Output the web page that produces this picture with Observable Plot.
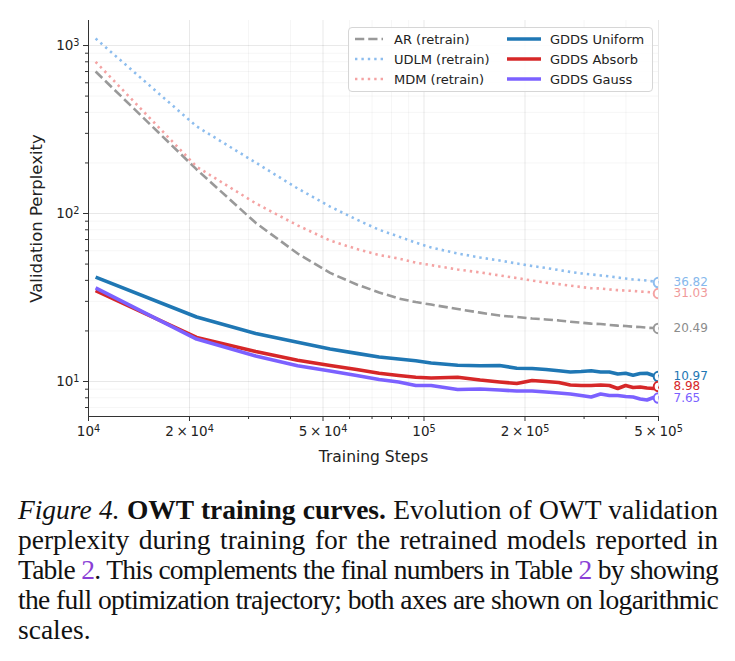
<!DOCTYPE html>
<html><head><meta charset="utf-8">
<script src="https://cdn.jsdelivr.net/npm/d3@7"></script>
<script src="https://cdn.jsdelivr.net/npm/@observablehq/plot@0.6"></script>
<style>
body{margin:0;background:#fff;}
#wrap{position:relative;width:735px;}
#legend{position:absolute;left:348px;top:27px;width:305px;height:65px;box-sizing:border-box;border:1px solid #d6d6d6;border-radius:4px;background:rgba(255,255,255,0.85);font-family:"DejaVu Sans";font-size:13px;color:#222;}
.item{position:absolute;height:20px;display:flex;align-items:center;white-space:nowrap;}
#caption{font-family:"Liberation Serif";font-size:27.5px;line-height:30px;width:700px;margin:25px 0 0 18px;color:#111;}
#caption .ln{text-align:justify;text-align-last:justify;white-space:nowrap;}
#caption .ln.last{text-align-last:left;}
.ref{color:#8a3fd6}
</style></head><body>
<div id="wrap"><div id="chart"></div><div id="legend"></div></div>
<div id="caption">
<div class="ln"><span class="m"><i>Figure 4.</i> <b>OWT training curves.</b> Evolution of OWT validation</span></div>
<div class="ln"><span class="m">perplexity during training for the retrained models reported in</span></div>
<div class="ln"><span class="m">Table&nbsp;<span class="ref">2</span>. This complements the final numbers in Table&nbsp;<span class="ref">2</span> by showing</span></div>
<div class="ln"><span class="m">the full optimization trajectory; both axes are shown on logarithmic</span></div>
<div class="ln last"><span class="m">scales.</span></div>
</div>
<script>
// ---- data ----
const steps = [10500, 21000, 31500, 42000, 52500, 63000, 73500, 84000, 94500, 105000, 126000, 147000, 168000, 189000, 210000, 231000, 252000, 273000, 294000, 315000, 336000, 357000, 378000, 399000, 420000, 441000, 462000, 483000, 500000];
const arRetrain   = [700, 183, 88, 57.8, 44.3, 37.8, 33.9, 31.2, 29.7, 28.7, 27.0, 25.7, 24.7, 24.2, 23.7, 23.4, 23.1, 22.7, 22.4, 22.1, 22.0, 21.7, 21.5, 21.4, 21.2, 21.1, 20.9, 20.8, 20.7];
const udlmRetrain = [1100, 330, 201, 141, 110, 92, 80, 73, 67, 62.8, 57.8, 54.7, 52.5, 50.4, 48.7, 47.4, 46.1, 44.9, 44.0, 43.4, 42.8, 42.2, 41.6, 41.0, 40.5, 40.2, 39.9, 39.4, 38.8];
const mdmRetrain  = [800, 190, 115, 85, 69, 61.5, 56.6, 54, 51, 49.3, 46.4, 44.6, 42.8, 41.3, 39.9, 38.8, 38.0, 37.2, 36.5, 35.9, 35.8, 35.3, 35.0, 34.8, 34.6, 34.3, 34.1, 33.8, 33.4];
const gddsUniform = [41.8, 24.2, 19.3, 17.1, 15.6, 14.7, 14.0, 13.6, 13.3, 12.9, 12.5, 12.4, 12.45, 12.0, 11.95, 11.8, 11.6, 11.4, 11.47, 11.6, 11.4, 11.4, 11.08, 11.2, 10.9, 11.15, 11.2, 10.85, 10.7];
const gddsAbsorb  = [34.8, 18.3, 15.1, 13.4, 12.45, 11.8, 11.2, 10.85, 10.6, 10.5, 10.6, 10.2, 9.93, 9.73, 10.14, 10.0, 9.86, 9.53, 9.47, 9.47, 9.53, 9.47, 9.08, 9.47, 9.21, 9.27, 9.15, 9.08, 9.34];
const gddsGauss   = [36.1, 17.9, 14.2, 12.4, 11.55, 10.85, 10.28, 9.93, 9.47, 9.47, 8.96, 9.02, 8.9, 8.78, 8.78, 8.66, 8.54, 8.42, 8.25, 8.08, 8.42, 8.25, 8.25, 8.14, 8.08, 7.87, 7.76, 8.03, 7.97];
const seriesNames = ["AR (retrain)", "UDLM (retrain)", "MDM (retrain)", "GDDS Uniform", "GDDS Absorb", "GDDS Gauss"];
const finalLabels = ["20.49", "36.82", "31.03", "10.97", "8.98", "7.65"];
const xMajorTicks = [1e4, 2e4, 5e4, 1e5, 2e5, 5e5];
const xTickLabels = ["10^4", "2×10^4", "5×10^4", "10^5", "2×10^5", "5×10^5"];
const xMinorTicks = [3e4, 4e4, 6e4, 7e4, 8e4, 9e4, 3e5, 4e5];
const yMajorTicks = [10, 100, 1000];
const yTickLabels = ["10^1", "10^2", "10^3"];
const yMinorTicks = [7, 8, 9, 20, 30, 40, 50, 60, 70, 80, 90, 200, 300, 400, 500, 600, 700, 800, 900];

// ---- styles ----
const seriesValues = [arRetrain, udlmRetrain, mdmRetrain, gddsUniform, gddsAbsorb, gddsGauss];
const colors = ["#999999", "#8dbdee", "#f4a3a3", "#1f77b4", "#d62728", "#7b61ff"];
const textColors = ["#8c8c8c", "#86b8ec", "#f09a9a", "#1f77b4", "#d62728", "#7b61ff"];
const dashes = ["9.25,4", "2.4,4", "2.4,4", null, null, null];
const widths = [2.6, 2.6, 2.6, 3.6, 3.6, 3.6];
const xDomain = [1e4, 5e5];
const yDomain = [6.19, 1409];

const marks = [
  Plot.gridY(yMinorTicks, {stroke: "#000", strokeOpacity: 0.04}),
  Plot.gridX(xMinorTicks, {stroke: "#000", strokeOpacity: 0.04}),
  Plot.gridY(yMajorTicks, {stroke: "#000", strokeOpacity: 0.09}),
  Plot.gridX(xMajorTicks, {stroke: "#000", strokeOpacity: 0.09})
];
seriesNames.forEach((name, i) => {
  const data = steps.map((s, j) => ({step: s, value: seriesValues[i][j]}));
  marks.push(Plot.line(data, {x: "step", y: "value", stroke: colors[i], strokeWidth: widths[i],
    strokeDasharray: dashes[i] || undefined, strokeLinecap: "butt", strokeLinejoin: "round"}));
});
seriesNames.forEach((name, i) => {
  const last = [{step: steps[steps.length - 1], value: seriesValues[i][steps.length - 1], label: finalLabels[i]}];
  marks.push(Plot.dot(last, {x: "step", y: "value", r: 4.8, stroke: colors[i], strokeWidth: 2, fill: "white", clip: true}));
  marks.push(Plot.text(last, {x: "step", y: "value", text: "label", dx: 15, textAnchor: "start", fill: textColors[i], fontSize: 12}));
});
marks.push(
  Plot.ruleX([xDomain[0]], {stroke: "#333", strokeWidth: 1}),
  Plot.ruleY([yDomain[0]], {stroke: "#333", strokeWidth: 1}),
  Plot.axisX(xMajorTicks, {tickSize: 5, tickPadding: 5, stroke: "#333", tickFormat: d => xTickLabels[xMajorTicks.indexOf(d)], label: null, fontSize: 13.5}),
  Plot.axisX(xMinorTicks, {tickSize: 3, stroke: "#333", tickFormat: () => "", label: null}),
  Plot.axisY(yMajorTicks, {tickSize: 5, tickPadding: 4, stroke: "#333", tickFormat: d => yTickLabels[yMajorTicks.indexOf(d)], label: null, fontSize: 13.5}),
  Plot.axisY(yMinorTicks, {tickSize: 3, stroke: "#333", tickFormat: () => "", label: null}),
  Plot.text(["Training Steps"], {frameAnchor: "bottom", dy: 41, lineAnchor: "middle", textAnchor: "middle", fontSize: 15.5, fill: "#222"}),
  Plot.text(["Validation Perplexity"], {frameAnchor: "left", dx: -52, rotate: -90, textAnchor: "middle", lineAnchor: "middle", fontSize: 16.5, fill: "#222"})
);

const chart = Plot.plot({
  width: 735, height: 470,
  marginLeft: 88, marginRight: 77, marginTop: 20, marginBottom: 54,
  x: {type: "log", domain: xDomain, label: null},
  y: {type: "log", domain: yDomain, label: null},
  style: {fontFamily: "DejaVu Sans", fontSize: "13px", color: "#222", background: "white"},
  marks
});
document.getElementById("chart").appendChild(chart);

// superscript exponents in tick labels (mathtext-like)
chart.querySelectorAll("text").forEach(t => {
  const s = t.textContent;
  if (/^[0-9×]*10\^[0-9]$/.test(s)) {
    const [base, exp] = s.split("^");
    const b = base.replace("×", "\u2009×\u2009");
    t.textContent = "";
    t.appendChild(document.createTextNode(b));
    const ts = document.createElementNS("http://www.w3.org/2000/svg", "tspan");
    ts.setAttribute("dy", "-0.42em");
    ts.setAttribute("font-size", "0.72em");
    ts.textContent = exp;
    t.appendChild(ts);
  }
});

// ---- legend ----
const legend = document.getElementById("legend");
seriesNames.forEach((n, i) => {
  const col = i < 3 ? 0 : 1, row = i % 3;
  const w = col ? 34 : 28;
  const div = document.createElement("div");
  div.className = "item";
  div.style.left = (col ? 158 : 6) + "px";
  div.style.top = (1 + row * 20) + "px";
  div.innerHTML = `<svg width="${w}" height="20"><line x1="0" x2="${w}" y1="10" y2="10" stroke="${colors[i]}" stroke-width="${widths[i]}" ${dashes[i] ? `stroke-dasharray="${dashes[i]}"` : ""}/></svg><span style="margin-left:${col ? 9 : 11}px">${n}</span>`;
  legend.appendChild(div);
});

// ---- caption: fit each line into 700px, then justify ----
document.querySelectorAll("#caption .ln").forEach(ln => {
  const m = ln.querySelector(".m");
  const w = m.getBoundingClientRect().width;
  const chars = m.textContent.length;
  if (w > 698) m.style.letterSpacing = (-(w - 698) / chars) + "px";
  ln.style.whiteSpace = "normal";
});
</script>
</body></html>
